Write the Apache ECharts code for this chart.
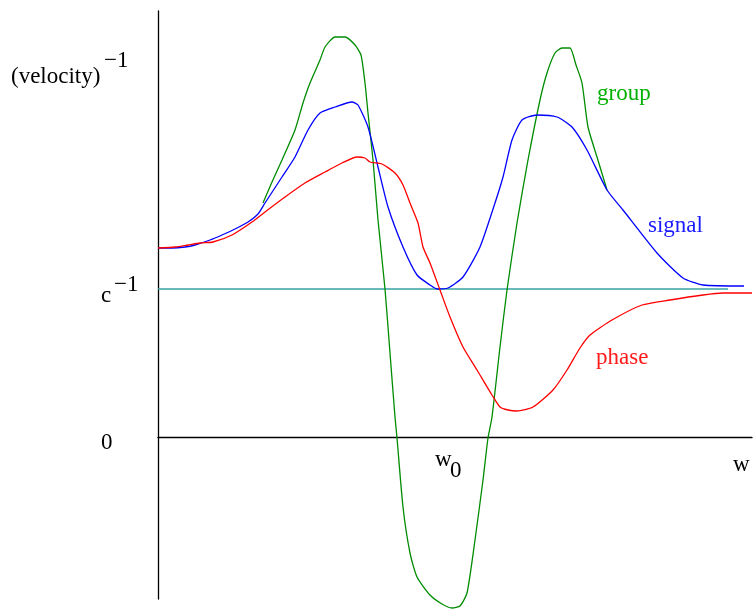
<!DOCTYPE html>
<html>
<head>
<meta charset="utf-8">
<script src="https://cdn.jsdelivr.net/npm/echarts@6/dist/echarts.min.js"></script>
<style>
html,body{margin:0;padding:0;background:#fff;}
#chart{width:754px;height:609px;}
</style>
</head>
<body>
<div id="chart"></div>
<script>
// Values (x: frequency, y: inverse velocity, arbitrary units; c^-1 = 148)
var cInverse = 148;
var lightLineEnd = 570;

var groupData = [
  [105,234],[114,255],[124,277],[137,307],[145,334],[152,354],[162,377],[167,390],[177,400],[187,400],
  [197,392],[203,382],[207,354],[210,324],[215,277],[220,217],[227,148],[232,84],[237,20],[239,-1],
  [245,-70],[252,-116],[259,-140],[272,-158],[284,-167],[294,-171],[302,-169],[309,-156],[317,-103],
  [325,-43],[330,-1],[334,20],[342,90],[349,147],[359,214],[370,277],[382,337],[389,364],[397,384],
  [404,389],[412,389],[418,372],[424,354],[430,310],[439,280],[449,247]
];

var signalData = [
  [0,189],[14,189],[27,190],[37,192],[52,197],[64,202],[77,208],[90,215],[100,223],[107,234],
  [124,260],[137,280],[150,307],[162,324],[177,330],[194,335],[200,332],[210,310],[220,270],[230,230],
  [245,190],[259,162],[272,152],[279,148],[290,149],[305,160],[322,190],[337,234],[345,260],[354,297],
  [364,317],[379,322],[399,320],[414,310],[429,287],[449,247],[465,227],[499,184],[525,159],[545,152],
  [586,151]
];

var phaseData = [
  [0,189],[17,190],[30,192],[42,194],[55,195],[74,202],[94,215],[107,225],[127,240],[147,254],
  [167,265],[184,274],[199,280],[207,279],[212,275],[224,273],[237,264],[245,252],[252,234],[260,214],
  [265,190],[272,174],[282,147],[292,120],[305,90],[319,67],[334,42],[342,30],[350,27],[359,26],
  [375,30],[395,47],[409,67],[422,89],[432,102],[454,117],[484,132],[512,137],[545,142],[565,144],
  [594,144]
];

var lightLine = [[0,cInverse],[lightLineEnd,cInverse]];

var serif = '"Liberation Serif", "DejaVu Serif", serif';
var chart = echarts.init(document.getElementById('chart'), null, {renderer:'canvas'});

function lineSeries(name, data, color){
  return {
    name: name, type: 'line', data: data, showSymbol: false, smooth: 0.2,
    clip: false, animation: false,
    lineStyle: {color: color, width: 1.3}
  };
}

function txt(x, y, s, color){
  return {
    type: 'text', left: x, top: y - 11,
    style: {text: s, fill: color || '#000', font: '23px ' + serif}
  };
}

chart.setOption({
  backgroundColor: '#fff',
  animation: false,
  grid: {left: 158, right: 2, top: 11, bottom: 10},
  xAxis: {
    type: 'value', min: 0, max: 594,
    axisLine: {show: true, onZero: true, lineStyle: {color: '#000', width: 1.3}},
    axisTick: {show: false}, axisLabel: {show: false}, splitLine: {show: false}
  },
  yAxis: {
    type: 'value', min: -162, max: 426,
    axisLine: {show: true, lineStyle: {color: '#000', width: 1.3}},
    axisTick: {show: false}, axisLabel: {show: false}, splitLine: {show: false}
  },
  series: [
    {
      name: 'light', type: 'line', data: lightLine, showSymbol: false, animation: false,
      lineStyle: {color: '#3aa3a3', width: 1.3}
    },
    lineSeries('group', groupData, '#008c00'),
    lineSeries('signal', signalData, '#0000ff'),
    lineSeries('phase', phaseData, '#ff0000')
  ],
  graphic: [
    txt(11, 76, '(velocity)'),
    txt(104, 60, '\u22121'),
    txt(101, 295, 'c'),
    txt(114, 284, '\u22121'),
    txt(101, 442, '0'),
    txt(435, 459, 'w'),
    txt(450, 470, '0'),
    txt(733, 464, 'w'),
    txt(597, 93, 'group', '#00b000'),
    txt(648, 225, 'signal', '#1a1aff'),
    txt(596, 357, 'phase', '#ff1a1a')
  ]
});
</script>
</body>
</html>
